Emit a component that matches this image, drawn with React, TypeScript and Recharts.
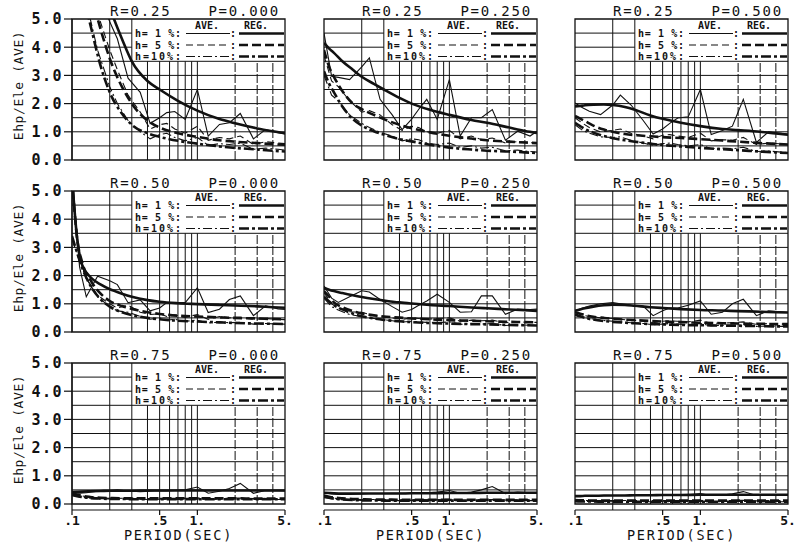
import React from "react";
import { LineChart, Line, XAxis, YAxis, ReferenceLine, ReferenceArea } from "recharts";

// panel order: rows R = 0.25 / 0.50 / 0.75, columns P = 0.000 / 0.250 / 0.500
const rValues = ["0.25", "0.50", "0.75"];
const pValues = ["0.000", "0.250", "0.500"];

const avePeriods = [0.1, 0.115, 0.13, 0.16, 0.2, 0.23, 0.28, 0.35, 0.42, 0.5, 0.57, 0.66, 0.8, 1.0, 1.22, 1.5, 1.8, 2.2, 2.8, 3.5, 4.4, 5.0];
const regPeriods = [0.1, 0.11, 0.12, 0.14, 0.17, 0.2, 0.25, 0.3, 0.4, 0.5, 0.7, 1.0, 1.5, 2.0, 3.0, 4.0, 5.0];

const yTicks = [0, 1, 2, 3, 4, 5];
const xTicks = [0.1, 0.5, 1, 5];
const xTickLabels = [".1", ".5", "1.", "5."];
const legendRows = ["h= 1 %:", "h= 5 %:", "h=10%:"];

// grid: full lines, and the ones stopped short by the legend block
const gridYFull = [0.5, 1, 1.5, 2, 2.5, 3, 3.5];
const gridYShort = [4, 4.5];
const gridXFull = [0.2, 0.3];
const gridXShort = [0.4, 0.5, 0.6, 0.7, 0.8, 0.9, 1];
const gridXLong = [2, 3, 4];

// AVE. (thin, jagged) — one list per panel, on avePeriods
const aveH1 = [
  [9, 8, 7, 6, 4.9, 4.3, 2.9, 2.4, 1.3, 1.5, 1.68, 1.72, 1.44, 2.5, 0.85, 1.26, 1.32, 1.65, 0.75, 1.08, 0.97, 0.92],
  [4.5, 2.97, 2.93, 2.85, 3.3, 3.62, 2.15, 1.6, 1.08, 1.45, 1.8, 2.15, 1.44, 2.85, 0.85, 1.5, 1.5, 1.79, 0.7, 1.02, 0.85, 1.02],
  [2.02, 1.85, 1.73, 1.61, 1.95, 2.3, 1.95, 1.4, 0.92, 1.1, 1.3, 1.49, 1.53, 2.5, 0.9, 1.05, 1.2, 2.15, 0.62, 1.0, 0.95, 0.9],
  [5.2, 2.3, 1.25, 1.98, 1.82, 1.68, 1.04, 1.14, 0.75, 0.85, 1.04, 1.04, 1.04, 1.57, 0.69, 0.81, 1.15, 1.28, 0.58, 0.93, 0.82, 0.8],
  [1.63, 1.2, 1.05, 1.25, 1.46, 1.42, 1.15, 0.9, 0.7, 0.8, 0.95, 1.1, 1.34, 1.05, 0.7, 0.72, 1.28, 1.28, 0.63, 0.81, 0.8, 0.81],
  [0.75, 0.85, 0.92, 1.0, 1.04, 1.0, 0.95, 0.92, 0.58, 0.75, 0.85, 0.85, 0.95, 1.1, 0.63, 0.7, 1.0, 1.16, 0.58, 0.75, 0.72, 0.69],
  [0.4, 0.38, 0.4, 0.45, 0.48, 0.5, 0.46, 0.44, 0.45, 0.47, 0.46, 0.48, 0.5, 0.6, 0.38, 0.45, 0.55, 0.73, 0.38, 0.48, 0.47, 0.46],
  [0.4, 0.36, 0.34, 0.34, 0.36, 0.37, 0.37, 0.38, 0.38, 0.39, 0.39, 0.4, 0.42, 0.48, 0.38, 0.42, 0.5, 0.62, 0.37, 0.42, 0.4, 0.4],
  [0.27, 0.27, 0.28, 0.29, 0.3, 0.3, 0.3, 0.3, 0.31, 0.31, 0.32, 0.32, 0.33, 0.37, 0.3, 0.32, 0.36, 0.44, 0.3, 0.33, 0.33, 0.33],
];
const aveH5 = [
  [9.5, 8, 6.8, 5.2, 3.9, 3.2, 2.3, 1.7, 1.1, 1.25, 1.3, 1.1, 0.95, 1.2, 0.7, 0.8, 0.75, 0.85, 0.55, 0.65, 0.6, 0.58],
  [3.7, 2.8, 2.6, 2.1, 1.7, 1.75, 1.6, 1.25, 1.05, 1.2, 1.15, 1.0, 0.95, 1.05, 0.75, 0.85, 0.72, 0.78, 0.6, 0.65, 0.62, 0.6],
  [1.5, 1.3, 1.15, 1.0, 1.05, 1.1, 0.95, 0.85, 0.75, 0.88, 0.9, 0.85, 0.8, 0.95, 0.68, 0.72, 0.7, 0.8, 0.55, 0.6, 0.57, 0.55],
  [5.3, 2.6, 1.9, 1.3, 1.0, 0.85, 0.95, 0.7, 0.62, 0.65, 0.55, 0.6, 0.52, 0.62, 0.45, 0.55, 0.5, 0.52, 0.45, 0.48, 0.45, 0.44],
  [1.4, 1.0, 0.85, 0.72, 0.7, 0.62, 0.55, 0.5, 0.45, 0.5, 0.48, 0.45, 0.48, 0.5, 0.38, 0.42, 0.4, 0.42, 0.33, 0.36, 0.34, 0.34],
  [0.7, 0.6, 0.55, 0.5, 0.48, 0.45, 0.42, 0.4, 0.33, 0.38, 0.4, 0.38, 0.36, 0.42, 0.3, 0.32, 0.33, 0.36, 0.27, 0.3, 0.28, 0.28],
  [0.36, 0.3, 0.26, 0.22, 0.2, 0.2, 0.21, 0.2, 0.19, 0.2, 0.21, 0.2, 0.2, 0.22, 0.19, 0.2, 0.2, 0.21, 0.19, 0.2, 0.19, 0.19],
  [0.28, 0.22, 0.19, 0.17, 0.16, 0.16, 0.16, 0.15, 0.15, 0.15, 0.16, 0.15, 0.15, 0.17, 0.14, 0.15, 0.15, 0.16, 0.14, 0.15, 0.15, 0.15],
  [0.14, 0.13, 0.12, 0.12, 0.12, 0.12, 0.13, 0.12, 0.12, 0.12, 0.12, 0.12, 0.12, 0.13, 0.11, 0.12, 0.12, 0.13, 0.11, 0.12, 0.12, 0.12],
];
const aveH10 = [
  [8, 6.8, 5.6, 3.9, 2.6, 2.0, 1.4, 1.0, 0.75, 0.9, 0.95, 0.8, 0.68, 0.8, 0.52, 0.58, 0.55, 0.6, 0.38, 0.42, 0.38, 0.35],
  [3.0, 2.3, 2.1, 1.6, 1.3, 1.15, 0.98, 0.85, 0.68, 0.75, 0.72, 0.6, 0.55, 0.6, 0.45, 0.5, 0.42, 0.45, 0.33, 0.35, 0.3, 0.28],
  [1.25, 1.05, 0.95, 0.82, 0.8, 0.82, 0.7, 0.6, 0.52, 0.58, 0.6, 0.55, 0.5, 0.55, 0.4, 0.42, 0.4, 0.45, 0.3, 0.32, 0.28, 0.26],
  [3.3, 2.5, 1.9, 1.25, 0.9, 0.75, 0.7, 0.55, 0.45, 0.5, 0.42, 0.45, 0.38, 0.42, 0.32, 0.35, 0.33, 0.34, 0.28, 0.3, 0.28, 0.28],
  [1.2, 0.9, 0.78, 0.62, 0.55, 0.5, 0.45, 0.4, 0.35, 0.38, 0.36, 0.34, 0.33, 0.36, 0.27, 0.3, 0.28, 0.3, 0.23, 0.25, 0.24, 0.23],
  [0.6, 0.52, 0.48, 0.42, 0.38, 0.36, 0.33, 0.3, 0.26, 0.28, 0.3, 0.28, 0.26, 0.3, 0.22, 0.24, 0.23, 0.25, 0.2, 0.21, 0.2, 0.2],
  [0.3, 0.26, 0.22, 0.19, 0.18, 0.17, 0.18, 0.17, 0.16, 0.17, 0.17, 0.17, 0.16, 0.18, 0.16, 0.17, 0.17, 0.18, 0.16, 0.17, 0.16, 0.16],
  [0.24, 0.19, 0.16, 0.14, 0.13, 0.13, 0.13, 0.12, 0.12, 0.12, 0.12, 0.12, 0.12, 0.13, 0.11, 0.12, 0.12, 0.12, 0.11, 0.12, 0.12, 0.12],
  [0.1, 0.09, 0.09, 0.08, 0.08, 0.08, 0.09, 0.08, 0.08, 0.08, 0.08, 0.08, 0.08, 0.09, 0.07, 0.08, 0.08, 0.09, 0.07, 0.08, 0.08, 0.08],
];

// REG. (thick, smooth) — one list per panel, on regPeriods
const regH1 = [
  [11, 10, 9, 7.6, 6.3, 5.4, 4.3, 3.5, 2.8, 2.5, 2.1, 1.75, 1.45, 1.3, 1.12, 1.02, 0.95],
  [4.15, 3.95, 3.8, 3.5, 3.2, 2.95, 2.7, 2.5, 2.2, 2.0, 1.78, 1.6, 1.42, 1.32, 1.15, 1.03, 0.96],
  [1.9, 1.92, 1.94, 1.96, 1.97, 1.95, 1.88, 1.78, 1.58, 1.46, 1.32, 1.2, 1.1, 1.06, 1.0, 0.94, 0.9],
  [5.5, 3.3, 2.4, 1.95, 1.68, 1.52, 1.36, 1.25, 1.13, 1.07, 1.02, 0.99, 0.96, 0.94, 0.91, 0.88, 0.86],
  [1.57, 1.5, 1.45, 1.38, 1.3, 1.24, 1.17, 1.12, 1.05, 1.01, 0.96, 0.92, 0.87, 0.84, 0.8, 0.77, 0.75],
  [0.75, 0.8, 0.84, 0.9, 0.95, 0.97, 0.96, 0.93, 0.88, 0.85, 0.81, 0.78, 0.76, 0.74, 0.72, 0.7, 0.69],
  [0.42, 0.43, 0.44, 0.45, 0.46, 0.47, 0.47, 0.47, 0.48, 0.48, 0.48, 0.48, 0.48, 0.48, 0.48, 0.48, 0.48],
  [0.4, 0.39, 0.38, 0.37, 0.37, 0.37, 0.37, 0.37, 0.37, 0.38, 0.38, 0.39, 0.39, 0.4, 0.4, 0.4, 0.4],
  [0.28, 0.28, 0.29, 0.29, 0.3, 0.3, 0.3, 0.31, 0.31, 0.32, 0.32, 0.33, 0.33, 0.33, 0.33, 0.33, 0.33],
];
const regH5 = [
  [9, 8.1, 7.3, 6, 4.6, 3.6, 2.6, 2.0, 1.4, 1.15, 0.95, 0.82, 0.7, 0.65, 0.6, 0.56, 0.54],
  [3.9, 3.3, 2.95, 2.45, 2.0, 1.8, 1.6, 1.45, 1.25, 1.13, 0.98, 0.86, 0.76, 0.7, 0.65, 0.62, 0.6],
  [1.56, 1.47, 1.38, 1.22, 1.08, 1.0, 0.92, 0.88, 0.84, 0.81, 0.78, 0.74, 0.69, 0.65, 0.6, 0.57, 0.55],
  [5.5, 3.3, 2.5, 1.85, 1.35, 1.1, 0.92, 0.82, 0.7, 0.64, 0.58, 0.55, 0.52, 0.5, 0.48, 0.46, 0.45],
  [1.45, 1.25, 1.05, 0.88, 0.74, 0.66, 0.59, 0.55, 0.51, 0.48, 0.45, 0.42, 0.4, 0.38, 0.36, 0.35, 0.34],
  [0.7, 0.65, 0.6, 0.54, 0.5, 0.47, 0.44, 0.42, 0.39, 0.37, 0.35, 0.33, 0.31, 0.3, 0.29, 0.28, 0.28],
  [0.38, 0.33, 0.29, 0.25, 0.22, 0.21, 0.2, 0.2, 0.2, 0.2, 0.2, 0.2, 0.2, 0.2, 0.19, 0.19, 0.19],
  [0.3, 0.26, 0.23, 0.2, 0.18, 0.17, 0.16, 0.16, 0.15, 0.15, 0.15, 0.15, 0.15, 0.15, 0.15, 0.15, 0.15],
  [0.14, 0.13, 0.13, 0.12, 0.12, 0.12, 0.12, 0.12, 0.12, 0.12, 0.12, 0.12, 0.12, 0.12, 0.12, 0.12, 0.12],
];
const regH10 = [
  [7.5, 6.7, 6.0, 4.8, 3.3, 2.4, 1.65, 1.25, 0.95, 0.82, 0.68, 0.58, 0.48, 0.43, 0.37, 0.33, 0.3],
  [3.15, 2.7, 2.4, 1.9, 1.45, 1.22, 1.02, 0.9, 0.74, 0.66, 0.54, 0.44, 0.37, 0.33, 0.3, 0.27, 0.25],
  [1.32, 1.2, 1.1, 0.97, 0.85, 0.77, 0.7, 0.65, 0.58, 0.53, 0.48, 0.43, 0.38, 0.35, 0.3, 0.27, 0.25],
  [3.4, 2.8, 2.3, 1.65, 1.15, 0.9, 0.7, 0.6, 0.5, 0.45, 0.4, 0.37, 0.34, 0.32, 0.3, 0.29, 0.28],
  [1.25, 1.08, 0.95, 0.8, 0.65, 0.56, 0.48, 0.43, 0.38, 0.35, 0.32, 0.3, 0.28, 0.27, 0.25, 0.24, 0.23],
  [0.62, 0.56, 0.5, 0.44, 0.39, 0.36, 0.33, 0.31, 0.28, 0.27, 0.25, 0.24, 0.23, 0.22, 0.21, 0.2, 0.2],
  [0.32, 0.28, 0.25, 0.21, 0.19, 0.18, 0.18, 0.17, 0.17, 0.17, 0.17, 0.17, 0.17, 0.17, 0.17, 0.17, 0.17],
  [0.25, 0.22, 0.19, 0.16, 0.14, 0.13, 0.13, 0.12, 0.12, 0.12, 0.12, 0.12, 0.12, 0.12, 0.12, 0.12, 0.12],
  [0.1, 0.09, 0.09, 0.09, 0.08, 0.08, 0.08, 0.08, 0.08, 0.08, 0.08, 0.08, 0.08, 0.08, 0.08, 0.08, 0.08],
];

const MONO = '"DejaVu Sans Mono", "Liberation Mono", monospace';
const INK = "#111";
const COL_LEFT = [72, 324, 575];
const ROW_TOP = [19, 191, 363];
const PLOT_W = 213;
const PLOT_H = 141;
const AXIS_GAP = 6; // bottom row: x axis sits a little under the frame

const DASH5 = "7 4";
const DASH10 = "9 3 2 3";
const REG_DASH5 = "9 4";
const REG_DASH10 = "10 3 3 3";

function Panel({ k }: { k: number }) {
  const row = Math.floor(k / 3);
  const col = k % 3;
  const showY = col === 0;
  const showX = row === 2;
  const yAxisW = showY ? 72 : 0;
  const xAxisH = showX ? 28 : 0;
  const plotH = showX ? PLOT_H + AXIS_GAP : PLOT_H;
  const yMin = showX ? -(AXIS_GAP / PLOT_H) * 5 : 0;
  const margin = { top: 10, right: 12, bottom: 10, left: showY ? 0 : 14 };

  const ave = avePeriods.map((t, i) => ({ t, a1: aveH1[k][i], a5: aveH5[k][i], a10: aveH10[k][i] }));
  const reg = regPeriods.map((t, i) => ({ t, r1: regH1[k][i], r5: regH5[k][i], r10: regH10[k][i] }));

  return (
    <div
      style={{
        position: "absolute",
        left: COL_LEFT[col] - yAxisW - margin.left,
        top: ROW_TOP[row] - margin.top,
      }}
    >
      <LineChart
        width={margin.left + yAxisW + PLOT_W + margin.right}
        height={margin.top + plotH + xAxisH + margin.bottom}
        margin={margin}
      >
        <XAxis
          type="number"
          dataKey="t"
          scale="log"
          domain={[0.1, 5]}
          allowDataOverflow
          ticks={xTicks}
          interval={0}
          hide={!showX}
          height={xAxisH}
          tickSize={5}
          tickMargin={1}
          tickFormatter={(v) => {
            const i = xTicks.findIndex((x) => Math.abs(x - v) < 1e-9);
            return i >= 0 ? xTickLabels[i] : String(v);
          }}
          axisLine={{ stroke: INK, strokeWidth: 1.2 }}
          tickLine={{ stroke: INK, strokeWidth: 1.2 }}
          tick={{ fill: INK, fontSize: 13, fontFamily: MONO, fontWeight: 700 }}
        />
        <YAxis
          type="number"
          domain={[yMin, 5]}
          allowDataOverflow
          ticks={yTicks}
          interval={0}
          hide={!showY}
          width={yAxisW}
          tickSize={8}
          tickMargin={1}
          tickFormatter={(v) => Number(v).toFixed(1)}
          axisLine={{ stroke: INK, strokeWidth: 1.2 }}
          tickLine={{ stroke: INK, strokeWidth: 1.2 }}
          tick={{ fill: INK, fontSize: 15, fontFamily: MONO, fontWeight: 700, letterSpacing: 1.5 }}
        />

        {gridYFull.map((y) => (
          <ReferenceLine key={`hy${y}`} y={y} stroke={INK} strokeWidth={1} />
        ))}
        {gridYShort.map((y) => (
          <ReferenceLine key={`sy${y}`} segment={[{ x: 0.1, y }, { x: 0.3, y }]} stroke={INK} strokeWidth={1} />
        ))}
        {gridXFull.map((x) => (
          <ReferenceLine key={`hx${x}`} x={x} stroke={INK} strokeWidth={1} />
        ))}
        {gridXShort.map((x) => (
          <ReferenceLine key={`sx${x}`} segment={[{ x, y: 0 }, { x, y: 3.5 }]} stroke={INK} strokeWidth={1} />
        ))}
        {gridXLong.map((x) => (
          <ReferenceLine key={`lx${x}`} segment={[{ x, y: 0 }, { x, y: 3.5 }]} stroke={INK} strokeWidth={1} strokeDasharray="9 2" />
        ))}
        <ReferenceArea x1={0.1} x2={5} y1={0} y2={5} fill="none" stroke={INK} strokeWidth={1.3} />

        <Line data={ave} dataKey="a1" type="linear" stroke={INK} strokeWidth={1.1} dot={false} isAnimationActive={false} />
        <Line data={ave} dataKey="a5" type="linear" stroke={INK} strokeWidth={1.1} strokeDasharray={DASH5} dot={false} isAnimationActive={false} />
        <Line data={ave} dataKey="a10" type="linear" stroke={INK} strokeWidth={1.1} strokeDasharray={DASH10} dot={false} isAnimationActive={false} />
        <Line data={reg} dataKey="r1" type="monotone" stroke={INK} strokeWidth={2.6} dot={false} isAnimationActive={false} />
        <Line data={reg} dataKey="r5" type="monotone" stroke={INK} strokeWidth={2.6} strokeDasharray={REG_DASH5} dot={false} isAnimationActive={false} />
        <Line data={reg} dataKey="r10" type="monotone" stroke={INK} strokeWidth={2.6} strokeDasharray={REG_DASH10} dot={false} isAnimationActive={false} />
      </LineChart>
    </div>
  );
}

function PanelText({ k }: { k: number }) {
  const row = Math.floor(k / 3);
  const col = k % 3;
  const x0 = COL_LEFT[col];
  const y0 = ROW_TOP[row];
  const txt = { fontFamily: MONO, fill: INK, dominantBaseline: "central" as const };
  const rowY = [14.5, 26, 37.5];
  const dashes = [undefined, DASH5, DASH10];
  const regDashes = [undefined, REG_DASH5, REG_DASH10];
  return (
    <g>
      <text x={x0 + 38} y={y0 - 8} fontSize={14} letterSpacing={1.8} {...txt}>
        R={rValues[row]}
      </text>
      <text x={x0 + PLOT_W - 5} y={y0 - 8} fontSize={14} letterSpacing={1.8} textAnchor="end" {...txt}>
        P={pValues[col]}
      </text>
      <text x={x0 + 135} y={y0 + 6.5} fontSize={10} fontWeight={700} textAnchor="middle" {...txt}>
        AVE.
      </text>
      <text x={x0 + 184} y={y0 + 6.5} fontSize={10} fontWeight={700} textAnchor="middle" {...txt}>
        REG.
      </text>
      {legendRows.map((label, i) => (
        <g key={label}>
          <text
            x={x0 + 63}
            y={y0 + rowY[i]}
            fontSize={10}
            fontWeight={700}
            textLength={46}
            lengthAdjust="spacing"
            {...txt}
          >
            {label}
          </text>
          <line x1={x0 + 114} x2={x0 + 158} y1={y0 + rowY[i]} y2={y0 + rowY[i]} stroke={INK} strokeWidth={1.1} strokeDasharray={dashes[i]} />
          <text x={x0 + 161} y={y0 + rowY[i]} fontSize={10} fontWeight={700} textAnchor="middle" {...txt}>
            :
          </text>
          <line x1={x0 + 167} x2={x0 + PLOT_W - 1} y1={y0 + rowY[i]} y2={y0 + rowY[i]} stroke={INK} strokeWidth={2.6} strokeDasharray={regDashes[i]} />
        </g>
      ))}
      {col === 0 && (
        <text
          x={18}
          y={y0 + PLOT_H / 2 - 4}
          fontSize={13}
          letterSpacing={0.6}
          textAnchor="middle"
          transform={`rotate(-90 18 ${y0 + PLOT_H / 2 - 4})`}
          {...txt}
        >
          Ehp/Ele (AVE)
        </text>
      )}
      {row === 2 && (
        <text x={x0 + PLOT_W / 2} y={535} fontSize={13.5} letterSpacing={1.8} textAnchor="middle" {...txt}>
          PERIOD(SEC)
        </text>
      )}
    </g>
  );
}

export default function App() {
  const panels = [0, 1, 2, 3, 4, 5, 6, 7, 8];
  return (
    <div style={{ position: "absolute", left: 0, top: 0, width: 799, height: 547, background: "#fff", overflow: "hidden" }}>
      {panels.map((k) => (
        <Panel key={k} k={k} />
      ))}
      <svg width={799} height={547} style={{ position: "absolute", left: 0, top: 0, pointerEvents: "none" }}>
        {panels.map((k) => (
          <PanelText key={k} k={k} />
        ))}
      </svg>
    </div>
  );
}
